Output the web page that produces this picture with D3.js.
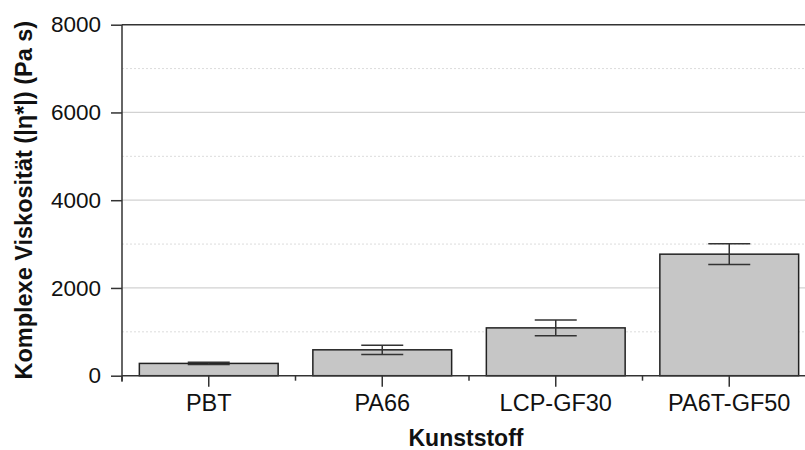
<!DOCTYPE html>
<html>
<head>
<meta charset="utf-8">
<script src="https://cdnjs.cloudflare.com/ajax/libs/d3/7.8.5/d3.min.js"></script>
<style>
    body { margin: 0; background: #fff; }
    svg { display: block; font-family: "Liberation Sans", Arial, sans-serif; }
</style>
</head>
<body>
<div id="chart"></div>
<script>
// Data
var categories = ["PBT", "PA66", "LCP-GF30", "PA6T-GF50"];
var viscosity = [280, 590, 1090, 2770];
var viscosityErr = [25, 105, 180, 235];
var yTicks = [0, 2000, 4000, 6000, 8000];
var yMinorTicks = [1000, 3000, 5000, 7000];

var svgWidth = 805;
var svgHeight = 450;
var margin = { top: 24.7, right: 0, bottom: 74.3, left: 122 };
var chartHeight = svgHeight - margin.top - margin.bottom;
// the last band runs past the right edge of the picture
var chartWidth = 694;

var data = categories.map(function(c, i) {
    return { name: c, value: viscosity[i], err: viscosityErr[i] };
});

var svg = d3.select("#chart")
    .append("svg")
    .attr("width", svgWidth)
    .attr("height", svgHeight);

var chartGroup = svg.append("g")
    .attr("transform", `translate(${margin.left}, ${margin.top})`);

// scales
var xBandScale = d3.scaleBand()
    .domain(categories)
    .range([0, chartWidth])
    .paddingInner(0.2)
    .paddingOuter(0.1);

var yLinearScale = d3.scaleLinear()
    .domain([0, 8000])
    .range([chartHeight, 0]);

// minor grid (dotted)
chartGroup.append("g")
    .selectAll("line")
    .data(yMinorTicks)
    .enter()
    .append("line")
    .attr("x1", 0)
    .attr("x2", svgWidth)
    .attr("y1", d => yLinearScale(d))
    .attr("y2", d => yLinearScale(d))
    .attr("stroke", "#dcdcdc")
    .attr("stroke-width", 1)
    .attr("stroke-dasharray", "2,2");

// major grid
chartGroup.append("g")
    .selectAll("line")
    .data(yTicks.filter(d => d > 0 && d < 8000))
    .enter()
    .append("line")
    .attr("x1", 0)
    .attr("x2", svgWidth)
    .attr("y1", d => yLinearScale(d))
    .attr("y2", d => yLinearScale(d))
    .attr("stroke", "#d2d2d2")
    .attr("stroke-width", 1.3);

// top frame line
chartGroup.append("line")
    .attr("x1", 0)
    .attr("x2", svgWidth)
    .attr("y1", yLinearScale(8000))
    .attr("y2", yLinearScale(8000))
    .attr("stroke", "#333")
    .attr("stroke-width", 1.5);

// bars
chartGroup.selectAll("rect.bar")
    .data(data)
    .enter()
    .append("rect")
    .attr("class", "bar")
    .attr("x", d => xBandScale(d.name))
    .attr("y", d => yLinearScale(d.value))
    .attr("width", xBandScale.bandwidth())
    .attr("height", d => chartHeight - yLinearScale(d.value))
    .attr("fill", "#c6c6c6")
    .attr("stroke", "#222")
    .attr("stroke-width", 1.5);

// error bars
var errGroup = chartGroup.selectAll("g.err")
    .data(data)
    .enter()
    .append("g")
    .attr("class", "err")
    .attr("stroke", "#333")
    .attr("stroke-width", 1.5);

var capHalf = 21;
var mid = d => xBandScale(d.name) + xBandScale.bandwidth() / 2;
errGroup.append("line")
    .attr("x1", mid)
    .attr("x2", mid)
    .attr("y1", d => yLinearScale(d.value + d.err))
    .attr("y2", d => yLinearScale(d.value - d.err));
errGroup.append("line")
    .attr("x1", d => mid(d) - capHalf)
    .attr("x2", d => mid(d) + capHalf)
    .attr("y1", d => yLinearScale(d.value + d.err))
    .attr("y2", d => yLinearScale(d.value + d.err));
errGroup.append("line")
    .attr("x1", d => mid(d) - capHalf)
    .attr("x2", d => mid(d) + capHalf)
    .attr("y1", d => yLinearScale(d.value - d.err))
    .attr("y2", d => yLinearScale(d.value - d.err));

// x axis
var bottomAxis = d3.axisBottom(xBandScale)
    .tickSizeInner(11)
    .tickSizeOuter(0)
    .tickPadding(8);

var xAxis = chartGroup.append("g")
    .attr("transform", `translate(0, ${chartHeight})`)
    .call(bottomAxis);
xAxis.select(".domain").attr("stroke", "#333").attr("stroke-width", 1.5)
    .attr("d", `M0,0H${svgWidth}`);
xAxis.selectAll(".tick line").attr("stroke", "#333").attr("stroke-width", 1.5);
xAxis.selectAll(".tick text")
    .attr("fill", "#111")
    .style("font-size", "23.5px");

// minor x ticks on band boundaries
var bounds = categories.map(c => xBandScale(c) - xBandScale.step() * xBandScale.paddingInner() / 2);
xAxis.selectAll("line.minor")
    .data(bounds)
    .enter()
    .append("line")
    .attr("class", "minor")
    .attr("x1", d => d)
    .attr("x2", d => d)
    .attr("y1", 0)
    .attr("y2", 5)
    .attr("stroke", "#333")
    .attr("stroke-width", 1.5);

// y axis
var leftAxis = d3.axisLeft(yLinearScale)
    .tickValues(yTicks)
    .tickSizeInner(11)
    .tickSizeOuter(0)
    .tickPadding(10)
    .tickFormat(d3.format("d"));

var yAxis = chartGroup.append("g")
    .call(leftAxis);
yAxis.select(".domain").attr("stroke", "#333").attr("stroke-width", 1.5)
    .attr("d", `M0,0V${chartHeight + 6}`);
yAxis.selectAll(".tick line").attr("stroke", "#333").attr("stroke-width", 1.5);
yAxis.selectAll(".tick text")
    .attr("fill", "#111")
    .style("font-size", "22.5px");

// axis titles
svg.append("text")
    .attr("x", 466)
    .attr("y", 445.5)
    .attr("text-anchor", "middle")
    .style("font-size", "23px")
    .style("font-weight", "bold")
    .attr("fill", "#111")
    .text("Kunststoff");

svg.append("text")
    .attr("transform", `translate(32, ${margin.top + chartHeight / 2}) rotate(-90)`)
    .attr("text-anchor", "middle")
    .style("font-size", "23.5px")
    .style("font-weight", "bold")
    .attr("fill", "#111")
    .text("Komplexe Viskosität (|η*|) (Pa s)");
</script>
</body>
</html>
